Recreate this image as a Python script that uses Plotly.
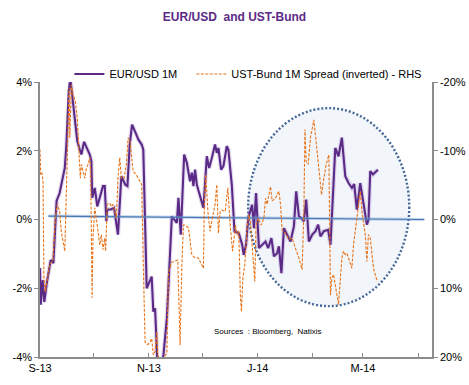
import pandas as pd
import plotly.graph_objects as go

DATE0 = "2013-09-01"

# EUR/USD 1M change (%), day offset from 1 Sep 2013
eur_day = [0.0, 0.4, 1.5, 2.4, 3.8, 6.0, 7.5, 9.3, 11.0, 13.9, 14.8, 16.1, 17.0, 18.5,
           20.9, 22.3, 23.2, 24.7, 27.9, 28.8, 29.3, 30.7, 32.1, 35.3, 36.3, 37.2, 37.7,
           39.7, 41.5, 43.7, 45.6, 47.8, 49.0, 50.3, 51.6, 54.0, 55.1, 57.0, 57.9, 59.8,
           60.7, 62.6, 63.5, 64.5, 65.8, 67.3, 69.2, 71.1, 73.9, 75.3, 76.7, 77.6, 78.9,
           80.8, 82.3, 84.1, 85.1, 86.0, 86.9, 87.9, 91.6, 93.5, 94.8, 96.3, 98.1, 99.1,
           100.0, 101.5, 102.8, 104.7, 105.6, 107.5, 109.0, 111.4, 113.3, 114.2, 115.5,
           116.7, 117.9, 118.9, 119.9, 121.1, 122.7, 124.5, 126.4, 127.9, 129.7, 131.1,
           132.9, 133.9, 135.3, 136.7, 138.5, 140.4, 142.3, 143.6, 145.1, 146.5, 147.9,
           149.2, 150.7, 152.6, 154.4, 155.9, 157.2, 159.1, 161.5, 162.8, 165.5, 167.3,
           169.2, 171.1, 172.9, 174.8, 176.1, 177.6, 179.5, 181.3, 183.2, 184.1, 185.1,
           186.6, 189.4]
eur_val = [-1.41, -2.48, -1.76, -2.40, -1.85, -1.18, -1.27, 0.54, 0.77, 1.50, 2.18, 3.74,
           4.10, 3.35, 2.28, 2.03, 1.89, 2.26, 1.89, 1.70, 0.63, 0.92, 0.38, 0.97, 0.97,
           -0.05, 0.29, 0.29, 0.34, -0.44, 1.26, 1.01, 0.97, 2.18, 2.76, 2.47, 2.33, 2.18,
           2.03, -2.00, -1.90, -1.66, -2.68, -2.58, -4.20, -4.50, -3.94, -2.87, 0.09, -0.01,
           -0.10, 0.63, -0.44, 1.89, 1.65, 1.11, 1.36, 0.97, 1.45, 1.01, 0.34, 1.84, 1.50,
           1.79, 2.18, 1.94, 2.08, 1.45, 1.55, 2.13, 2.03, 1.01, -0.34, -0.39, -0.73, -1.03,
           -0.73, 0.04, 0.24, 0.43, -0.25, 0.77, -0.83, -0.73, -0.64, -0.83, -0.54, -1.07,
           -0.98, -0.78, -1.56, -0.25, -0.44, -0.64, -0.20, 0.82, 0.09, 0.04, -0.05, 0.58,
           -0.64, -0.44, -0.34, -0.15, -0.49, -0.34, -0.30, -0.73, 2.08, 1.84, 2.38, 1.26,
           1.06, 0.92, 1.03, 0.29, 1.06, 0.53, -0.15, -0.01, 1.41, 1.31, 1.45]

# UST-Bund 1M spread change (%), plotted on the inverted right axis
spr_day = [0.0, 0.4, 1.1, 1.7, 2.2, 3.0, 5.4, 7.3, 8.6, 9.7, 11.0, 11.9, 13.9, 15.3, 16.3,
           16.7, 17.6, 18.5, 19.8, 20.9, 21.7, 22.6, 23.2, 24.1, 25.1, 26.0, 26.9, 27.9,
           28.4, 29.2, 29.7, 30.7, 31.6, 32.5, 33.5, 34.4, 35.3, 36.3, 36.8, 37.7, 39.1,
           40.0, 40.9, 42.8, 43.7, 44.7, 45.6, 47.1, 48.4, 49.4, 50.5, 52.2, 54.0, 55.1,
           57.0, 57.9, 58.9, 60.4, 61.7, 62.6, 63.5, 64.5, 65.5, 66.0, 67.3, 71.1, 72.0,
           73.9, 75.7, 77.2, 78.0, 78.5, 79.5, 80.4, 81.3, 83.2, 85.1, 86.9, 88.8, 90.7,
           91.6, 92.1, 92.9, 94.1, 95.3, 96.6, 98.1, 99.1, 100.0, 101.0, 101.9, 103.8,
           105.3, 106.6, 107.9, 108.6, 109.5, 110.5, 111.4, 112.3, 112.9, 113.7, 114.8,
           116.1, 117.0, 117.9, 118.9, 119.9, 120.4, 121.1, 122.3, 124.0, 125.5, 126.4,
           127.3, 128.3, 129.2, 130.1, 132.0, 133.9, 134.8, 135.7, 137.6, 139.5, 141.3,
           143.2, 145.1, 146.9, 147.9, 148.5, 149.2, 150.3, 151.6, 153.5, 154.8, 156.3,
           157.8, 159.1, 160.4, 161.9, 162.8, 163.6, 164.5, 165.5, 166.4, 167.3, 169.2,
           170.1, 171.1, 172.0, 172.9, 173.9, 174.8, 175.7, 176.7, 177.6, 178.5, 179.5,
           180.4, 181.3, 182.3, 183.2, 184.1, 185.1, 186.0, 186.9, 188.4, 189.4]
spr_val = [-10.2, -6.5, -6.8, -5.6, 8.5, 10.5, 6.6, 5.9, -0.2, -2.2, -1.2, 1.7, 4.6, -10.9,
           -19.2, -11.9, -19.6, -18.2, -17.2, -14.8, -9.9, -6.0, -8.0, -7.0, -6.0, -7.5,
           -8.0, -9.0, -7.0, 11.4, 2.7, -1.7, -0.2, 1.7, 3.7, 2.2, 4.4, 2.7, 4.6, -2.2, -2.4,
           -1.9, -2.2, -0.2, -6.0, -9.0, -6.0, -6.0, -8.0, -11.9, -11.3, -7.0, -6.5, -6.0,
           -5.1, 6.6, 17.8, 18.2, 17.8, 17.3, 19.7, 19.2, 16.3, 19.7, 20.6, 19.5, 7.8, 6.2,
           6.0, 5.9, 13.4, 18.3, 6.6, 0.8, 0.8, 1.2, 5.1, 5.6, 5.6, 6.6, 7.1, -2.2, -6.5,
           -1.2, 1.7, -0.2, -2.2, -5.1, 2.0, -1.2, -1.4, -1.2, -4.6, 0.8, 4.6, 3.2, 0.8, 2.2,
           1.7, 11.0, 13.4, 8.5, 6.6, 1.2, -0.7, 0.3, 4.2, 8.5, 9.0, 0.8, -0.2, 0.8, -0.2,
           -3.1, -2.2, -3.6, -4.8, -2.7, -3.1, -4.1, -2.2, 1.5, 2.0, 2.9, 2.7, 4.2, 5.6, 7.3,
           -1.2, -13.1, -8.5, -8.0, -11.9, -14.5, -10.9, -7.5, -3.6, -6.0, -8.0, -9.4, 11.0,
           8.5, 8.0, 9.5, 11.4, 12.4, 5.6, 4.6, 5.1, 4.9, 5.6, 6.3, 7.1, 3.7, 1.7, -0.2, -1.7,
           -4.1, -1.2, 0.8, 2.2, 6.1, 2.2, 2.7, 4.6, 7.1, 8.5, 9.0]

# trend line of EUR/USD
trend_day = [4.7, 215.4]
trend_val = [0.10, 0.00]

tick_dates = ["2013-09-01", "2013-10-01", "2013-11-01", "2013-12-01",
              "2014-01-01", "2014-02-01", "2014-03-01", "2014-04-01"]
tick_text = ["S-13", "", "N-13", "", "J-14", "", "M-14", ""]
left_ticks = [-4, -2, 0, 2, 4]
left_text = ["-4%", "-2%", "0%", "2%", "4%"]
right_ticks = [-20, -10, 0, 10, 20]
right_text = ["-20%", "-10%", "0%", "10%", "20%"]

t0 = pd.Timestamp(DATE0)
def to_dates(days):
    return t0 + pd.to_timedelta(days, unit="D")

eur_x = to_dates(eur_day)
spr_x = to_dates(spr_day)
trend_x = to_dates(trend_day)

FONT = "Liberation Sans, Arial, sans-serif"
PURPLE = "#5b2a86"
ORANGE = "#e8731a"
AXIS = "#8c8c8c"

fig = go.Figure()

fig.add_trace(go.Scatter(x=spr_x, y=spr_val, yaxis="y2", mode="lines",
                         name="UST-Bund 1M Spread (inverted) - RHS", legend="legend2",
                         line=dict(color=ORANGE, width=1.1, dash="3px,1.5px")))
fig.add_trace(go.Scatter(x=eur_x, y=eur_val, mode="lines", showlegend=False,
                         hoverinfo="skip",
                         line=dict(color="rgba(160,130,200,0.28)", width=4.5)))
fig.add_trace(go.Scatter(x=eur_x, y=eur_val, mode="lines", name="EUR/USD 1M",
                         legend="legend",
                         line=dict(color=PURPLE, width=2.1)))
fig.add_trace(go.Scatter(x=trend_x, y=trend_val, mode="lines", showlegend=False,
                         hoverinfo="skip",
                         line=dict(color="rgba(120,160,210,0.45)", width=3)))
fig.add_trace(go.Scatter(x=trend_x, y=trend_val, mode="lines", showlegend=False,
                         line=dict(color="#4a78b4", width=1.2)))

fig.add_shape(type="circle", xref="paper", yref="paper",
              x0=0.531, x1=0.942, y0=0.185, y1=0.905, layer="below",
              fillcolor="#f2f5fa",
              line=dict(color="#46699a", width=2.4, dash="2px,2px"))

legend_common = dict(orientation="h", y=1.029, yanchor="middle",
                     xanchor="left", bgcolor="rgba(0,0,0,0)",
                     font=dict(family=FONT, size=11), itemwidth=30)

fig.update_layout(
    width=469, height=385,
    margin=dict(l=40, r=37, t=82, b=28, autoexpand=False),
    paper_bgcolor="white", plot_bgcolor="white",
    font=dict(family=FONT, size=11, color="black"),
    title=dict(text="<b>EUR/USD\u00a0 and UST-Bund</b>", x=0.5, xanchor="center",
               y=1 - 17 / 385, yanchor="middle",
               font=dict(family=FONT, size=12, color="#5b2a86")),
    showlegend=True,
    legend=dict(x=0.075, **legend_common),
    legend2=dict(x=0.386, **legend_common),
    xaxis=dict(type="date", range=["2013-09-01", "2014-04-08 17:00"],
               tickvals=tick_dates, ticktext=tick_text, ticks="inside", ticklen=4,
               tickcolor=AXIS, showline=True, linecolor=AXIS, linewidth=1.5,
               showgrid=False, zeroline=False, tickfont=dict(size=11)),
    yaxis=dict(range=[-4, 4], tickvals=left_ticks, ticktext=left_text, ticks="outside",
               ticklen=4, tickcolor=AXIS, showline=True, linecolor=AXIS, linewidth=1.5,
               showgrid=False, zeroline=False),
    yaxis2=dict(range=[20, -20], overlaying="y", side="right", tickvals=right_ticks,
                ticktext=right_text, ticks="outside", ticklen=4, tickcolor=AXIS,
                showline=True, linecolor=AXIS, linewidth=1.5, showgrid=False,
                zeroline=False),
)

fig.add_annotation(text="Sources  : Bloomberg,  Natixis", xref="paper", yref="paper",
                   x=0.44, y=0.091, xanchor="left", yanchor="middle", showarrow=False,
                   font=dict(family=FONT, size=8, color="black"))

fig.write_html("out.html", config={"displayModeBar": False},
               post_script="document.body.style.margin='0px';")
